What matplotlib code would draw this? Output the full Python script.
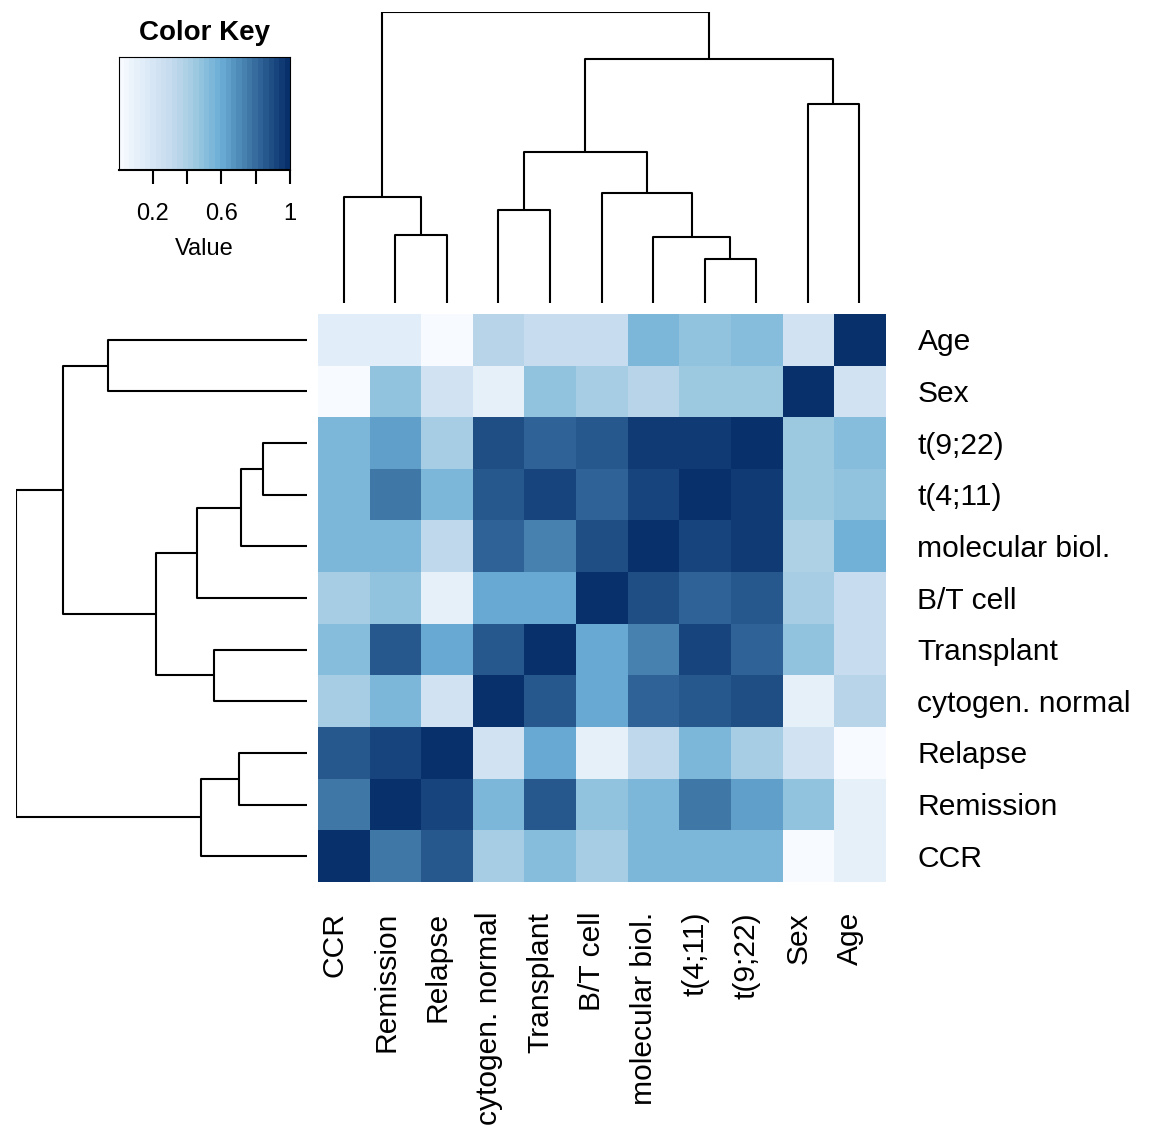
import numpy as np
import matplotlib.pyplot as plt
from matplotlib.colors import LinearSegmentedColormap

plt.rcParams['font.family'] = ['Liberation Sans', 'DejaVu Sans']

# column order (left to right); rows are shown in the reverse order (top to bottom)
col_labels = ["CCR", "Remission", "Relapse", "cytogen. normal", "Transplant", "B/T cell",
              "molecular biol.", "t(4;11)", "t(9;22)", "Sex", "Age"]
row_labels = col_labels[::-1]

# values as displayed: one list per row, top to bottom
values = [
    [0.13, 0.13, 0.02, 0.37, 0.30, 0.30, 0.56, 0.47, 0.53, 0.22, 1.00],  # Age
    [0.01, 0.47, 0.22, 0.12, 0.47, 0.41, 0.36, 0.44, 0.44, 1.00, 0.22],  # Sex
    [0.55, 0.64, 0.41, 0.89, 0.84, 0.86, 0.96, 0.96, 1.00, 0.44, 0.53],  # t(9;22)
    [0.55, 0.77, 0.55, 0.86, 0.93, 0.83, 0.91, 1.00, 0.96, 0.44, 0.47],  # t(4;11)
    [0.55, 0.55, 0.34, 0.84, 0.73, 0.89, 1.00, 0.91, 0.96, 0.38, 0.58],  # molecular biol.
    [0.41, 0.47, 0.12, 0.60, 0.60, 1.00, 0.89, 0.83, 0.86, 0.41, 0.30],  # B/T cell
    [0.50, 0.86, 0.62, 0.86, 1.00, 0.60, 0.73, 0.93, 0.83, 0.47, 0.30],  # Transplant
    [0.41, 0.55, 0.22, 1.00, 0.86, 0.60, 0.83, 0.86, 0.89, 0.12, 0.37],  # cytogen. normal
    [0.86, 0.93, 1.00, 0.22, 0.62, 0.12, 0.34, 0.55, 0.41, 0.22, 0.02],  # Relapse
    [0.77, 1.00, 0.93, 0.55, 0.86, 0.47, 0.55, 0.77, 0.64, 0.47, 0.12],  # Remission
    [1.00, 0.77, 0.86, 0.41, 0.50, 0.41, 0.55, 0.55, 0.55, 0.01, 0.12],  # CCR
]

# hierarchical clustering merges: (left, right, height, name)
merges = [
    ("t(4;11)", "t(9;22)", 0.44, "m1"),
    ("molecular biol.", "m1", 0.66, "m2"),
    ("Remission", "Relapse", 0.68, "m3"),
    ("cytogen. normal", "Transplant", 0.93, "m4"),
    ("CCR", "m3", 1.06, "m5"),
    ("B/T cell", "m2", 1.10, "m6"),
    ("m4", "m6", 1.51, "m7"),
    ("Sex", "Age", 1.99, "m8"),
    ("m7", "m8", 2.44, "m9"),
    ("m5", "m9", 2.91, "m10"),
]

cmap = LinearSegmentedColormap.from_list(
    "key", [(0.0, "#F7FBFF"), (0.15, "#DEEBF7"), (0.3, "#C6DBEF"),
            (0.45, "#9ECAE1"), (0.6, "#6BAED6"), (1.0, "#08306B")]).resampled(32)

W, H = 1152, 1131
fig = plt.figure(figsize=(W / 100, H / 100), dpi=100)


def frac(x0, y0, x1, y1):
    return [x0 / W, 1 - y1 / H, (x1 - x0) / W, (y1 - y0) / H]


n = len(col_labels)
mat = np.array(values)

# heatmap
ax = fig.add_axes(frac(318, 314, 885, 882))
ax.imshow(mat, cmap=cmap, vmin=0, vmax=1, aspect="auto", interpolation="nearest")
ax.set_xlim(-0.5, n - 0.5)
ax.set_ylim(n - 0.5, -0.5)
ax.axis("off")
for i, lab in enumerate(row_labels):
    ax.text(n - 0.5 + 0.63, i + 0.05, lab, ha="left", va="center", fontsize=21.6)
for j, lab in enumerate(col_labels):
    ax.text(j - 0.18, n - 0.5 + 0.58, lab, ha="center", va="top", rotation=90, fontsize=21.6)


def draw_dendro(axd, order, vertical):
    pos = {lab: (i, 0.0) for i, lab in enumerate(order)}
    for a, b, h, name in merges:
        xa, ha_ = pos[a]
        xb, hb = pos[b]
        xs = [xa, xa, xb, xb]
        hs = [ha_, h, h, hb]
        if vertical:
            axd.plot(xs, hs, color="black", lw=1.5, solid_capstyle="butt")
        else:
            axd.plot(hs, xs, color="black", lw=1.5, solid_capstyle="butt")
        pos[name] = ((xa + xb) / 2, h)


top = merges[-1][2]

# column dendrogram
axc = fig.add_axes(frac(318, 12, 885, 303))
draw_dendro(axc, col_labels, True)
axc.set_xlim(-0.5, n - 0.5)
axc.set_ylim(0, top)
axc.axis("off")

# row dendrogram
axr = fig.add_axes(frac(16, 314, 307, 882))
draw_dendro(axr, row_labels, False)
axr.set_ylim(n - 0.5, -0.5)
axr.set_xlim(top, 0)
axr.axis("off")

# color key
axk = fig.add_axes(frac(119, 57, 290, 170))
grad = np.linspace(0, 1, 256).reshape(1, -1)
axk.imshow(grad, cmap=cmap, vmin=0, vmax=1, aspect="auto", extent=[0, 1, 0, 1],
           interpolation="nearest")
axk.set_xlim(0.005, 1)
axk.set_ylim(0, 1)
axk.set_yticks([])
axk.set_xticks([0.2, 0.4, 0.6, 0.8, 1.0])
axk.set_xticklabels(["0.2", "", "0.6", "", "1"], fontsize=17)
axk.tick_params(axis="x", length=10, width=1.5, pad=14)
for s in axk.spines.values():
    s.set_linewidth(0.8)
axk.spines["bottom"].set_linewidth(1.5)
axk.set_title("Color Key", fontsize=20, fontweight="bold", pad=12)
axk.set_xlabel("Value", fontsize=17, labelpad=9)

fig.savefig("out.png", dpi=100)
